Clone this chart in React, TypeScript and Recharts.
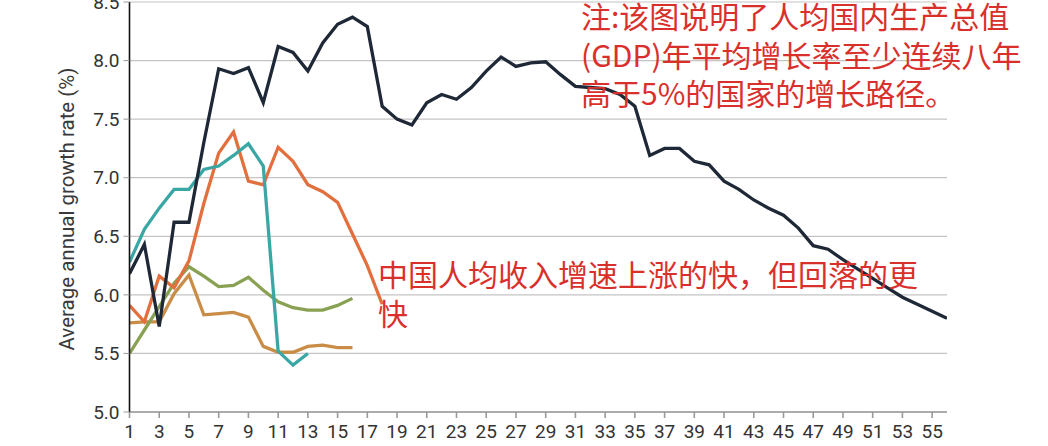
import React from 'react';
import { LineChart, Line, XAxis, YAxis, CartesianGrid } from 'recharts';

const years: number[] = Array.from({ length: 56 }, (_, i) => i + 1);

const darkSeries = [
  6.18, 6.43, 5.73, 6.62, 6.62, 7.3, 7.93, 7.89, 7.94, 7.64,
  8.12, 8.07, 7.91, 8.15, 8.31, 8.37, 8.29, 7.61, 7.5, 7.45,
  7.64, 7.71, 7.67, 7.77, 7.91, 8.03, 7.95, 7.98, 7.99, 7.88,
  7.78, 7.77, 7.76, 7.71, 7.61, 7.19, 7.25, 7.25, 7.14, 7.11,
  6.97, 6.9, 6.81, 6.74, 6.68, 6.57, 6.42, 6.39, 6.3, 6.22,
  6.14, 6.06, 5.98, 5.92, 5.86, 5.8,
];
const tealSeries = [6.28, 6.56, 6.74, 6.9, 6.9, 7.07, 7.1, 7.19, 7.29, 7.1, 5.52, 5.4, 5.5];
const orangeSeries = [
  5.91, 5.77, 6.16, 6.06, 6.29, 6.78, 7.21, 7.39, 6.97, 6.94,
  7.26, 7.14, 6.94, 6.88, 6.79, 6.52, 6.25, 5.92,
];
const oliveSeries = [
  5.5, 5.7, 5.9, 6.1, 6.24, 6.16, 6.07, 6.08, 6.15, 6.04,
  5.94, 5.89, 5.87, 5.87, 5.91, 5.97,
];
const tanSeries = [
  5.76, 5.77, 5.77, 6.01, 6.17, 5.83, 5.84, 5.85, 5.81, 5.56,
  5.51, 5.51, 5.56, 5.57, 5.55, 5.55,
];

const xTicks: number[] = years.filter((y) => y % 2 === 1);
const yTicks: number[] = [5.0, 5.5, 6.0, 6.5, 7.0, 7.5, 8.0, 8.5];

const yAxisTitle = 'Average annual growth rate (%)';
const noteLines: string[] = [
  '注:该图说明了人均国内生产总值',
  '(GDP)年平均增长率至少连续八年',
  '高于5%的国家的增长路径。',
];
const chinaNoteLines: string[] = ['中国人均收入增速上涨的快，但回落的更', '快'];

const data = years.map((x, i) => ({
  x,
  dark: darkSeries[i],
  teal: tealSeries[i],
  orange: orangeSeries[i],
  olive: oliveSeries[i],
  tan: tanSeries[i],
}));

const W = 1048;
const H = 446;
const RED = '#d9302c';
const CJK = '"Noto Sans CJK SC", "Noto Sans", sans-serif';
const LW = 3.3;

const YTitle = (props: any) => {
  const vb = props.viewBox || { x: 0, y: 0, width: 0, height: 0 };
  const cx = 67;
  const cy = vb.y + vb.height / 2 + 2;
  return (
    <text
      x={cx}
      y={cy}
      transform={`rotate(-90, ${cx}, ${cy})`}
      textAnchor="middle"
      dominantBaseline="central"
      fontSize={20.5}
      fill="#3a3a3a"
      fontFamily="Roboto, sans-serif"
    >
      {yAxisTitle}
    </text>
  );
};

export default function App() {
  return (
    <div
      style={{
        position: 'absolute',
        left: 0,
        top: 0,
        width: W,
        height: H,
        background: '#fff',
        fontFamily: 'Roboto, sans-serif',
      }}
    >
      <LineChart
        width={W}
        height={H}
        data={data}
        margin={{ top: 2, right: 101, bottom: 0, left: 0 }}
      >
        <CartesianGrid horizontal vertical={false} stroke="#c4c4c4" strokeWidth={1.2} />
        <XAxis
          dataKey="x"
          type="number"
          domain={[1, 56]}
          ticks={xTicks}
          interval={0}
          allowDataOverflow
          height={34}
          stroke="#9a9a9a"
          strokeWidth={1.6}
          tickSize={6}
          tickMargin={7}
          tick={{ fill: '#333', fontSize: 19 }}
        />
        <YAxis
          type="number"
          domain={[5, 8.5]}
          ticks={yTicks}
          interval={0}
          width={129.5}
          allowDataOverflow
          axisLine={{ stroke: '#111', strokeWidth: 1.6 }}
          tickLine={{ stroke: '#9a9a9a' }}
          tickSize={6}
          tickMargin={4}
          tick={{ fill: '#333', fontSize: 19 }}
          tickFormatter={(v: number) => v.toFixed(1)}
          label={<YTitle />}
        />
        <Line type="linear" dataKey="tan" stroke="#c98d47" strokeWidth={LW} dot={false} isAnimationActive={false} />
        <Line type="linear" dataKey="olive" stroke="#89a152" strokeWidth={LW} dot={false} isAnimationActive={false} />
        <Line type="linear" dataKey="orange" stroke="#e2703e" strokeWidth={LW} dot={false} isAnimationActive={false} />
        <Line type="linear" dataKey="teal" stroke="#3ba7a5" strokeWidth={LW} dot={false} isAnimationActive={false} />
        <Line type="linear" dataKey="dark" stroke="#1f2836" strokeWidth={LW} dot={false} isAnimationActive={false} />
      </LineChart>
      <svg
        width={W}
        height={H}
        style={{ position: 'absolute', left: 0, top: 0, pointerEvents: 'none' }}
      >
        {noteLines.map((t, i) => (
          <text
            key={'n' + i}
            x={581}
            y={15 + i * 38.5}
            dominantBaseline="central"
            fontSize={30}
            fill={RED}
            fontFamily={CJK}
          >
            {t}
          </text>
        ))}
        {chinaNoteLines.map((t, i) => (
          <text
            key={'c' + i}
            x={378}
            y={273 + i * 39}
            dominantBaseline="central"
            fontSize={30}
            fill={RED}
            fontFamily={CJK}
          >
            {t}
          </text>
        ))}
      </svg>
    </div>
  );
}
